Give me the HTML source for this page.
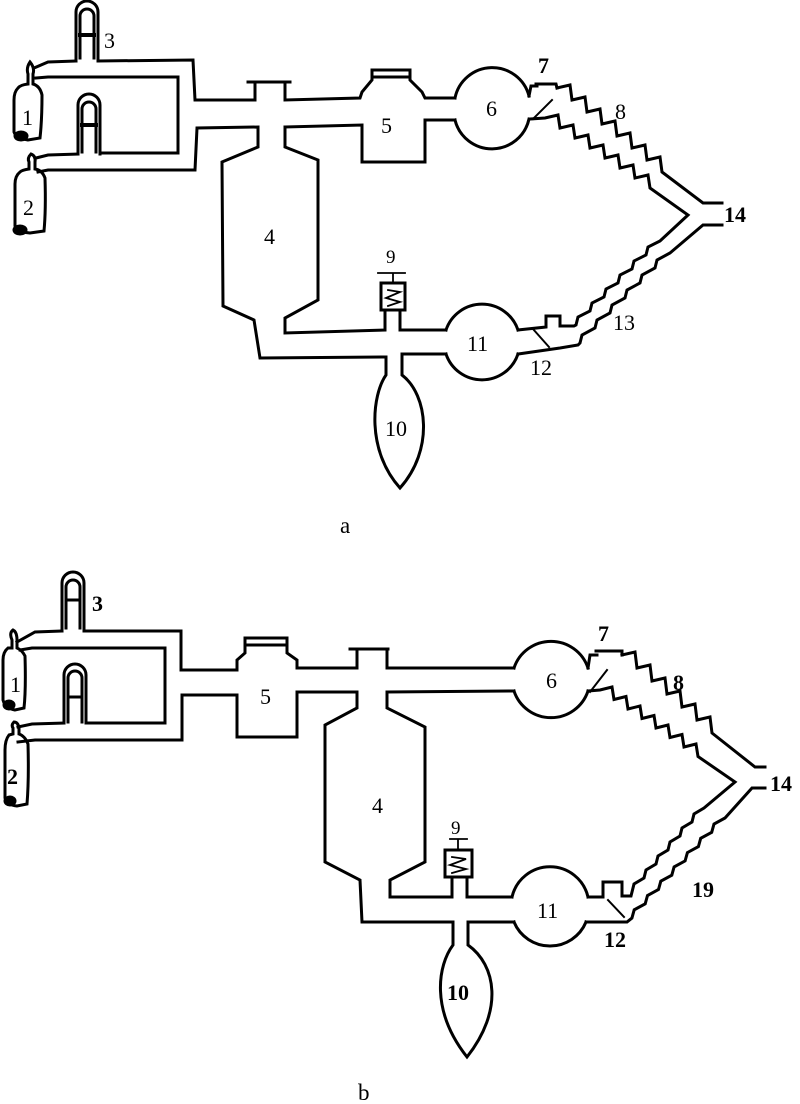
<!DOCTYPE html>
<html><head><meta charset="utf-8"><style>
html,body{margin:0;padding:0;background:#fff;}
svg{display:block;}
text{font-family:"Liberation Serif",serif;fill:#000;}
</style></head><body>
<svg width="800" height="1104" viewBox="0 0 800 1104" xmlns="http://www.w3.org/2000/svg">
<g fill="none" stroke="#000" stroke-width="3" stroke-linejoin="miter" stroke-linecap="square">
<!-- ===== Diagram a ===== -->
<path d="M18,88 Q14,92 14,100 L14,132 Q16,138 28,140 L40,138 Q42,120 42,95 Q40,86 33,84 L33,74 Q35,68 30,62 Q26,68 28,74 L28,84 Q20,85 18,88 Z"/>
<ellipse cx="21" cy="136" rx="6" ry="4" fill="#000"/>
<path d="M20,172 Q15,176 15,184 L15,226 Q17,232 30,233 L44,231 Q46,210 45,178 Q42,170 35,169 L35,162 Q36,156 31,154 Q27,158 29,162 L29,169 Q22,170 20,172 Z"/>
<ellipse cx="20" cy="230" rx="6" ry="4" fill="#000"/>
<path d="M76,61 L76,12 A11,11 0 0 1 98,12 L98,61"/>
<path d="M80,58 L80,16 A7,7 0 0 1 94,16 L94,58"/>
<line x1="80" y1="35" x2="94" y2="35" stroke-width="4"/>
<path d="M78,154 L78,105 A11,11 0 0 1 100,105 L100,154"/>
<path d="M82,152 L82,109 A7,7 0 0 1 96,109 L96,152"/>
<line x1="82" y1="125" x2="96" y2="125" stroke-width="4"/>
<path d="M34,68 L48,62 L76,61 M98,61 L193,60 L195,100 L255,100 L255,82 M248,82 L290,82 M285,82 L285,100 L360,98 L362,92 L372,80 L372,70 L410,70 L410,80 L422,92 L425,98 L455,98"/>
<line x1="372" y1="77" x2="410" y2="77"/>
<path d="M36,78 L48,77 L178,77 L178,153 L100,153"/>
<path d="M36,158 L48,155 L78,154"/>
<path d="M38,172 L48,170 L195,170 L197,128 L258,127 L258,147 L222,162 L223,306 L254,320 L260,358 L386,357"/>
<path d="M285,127 L285,147 L318,160 L318,300 L285,318 L285,333 L385,330 L385,310"/>
<path d="M285,127 L362,125 L362,162 L425,162 L425,120 L455,120"/>
<rect x="381" y="283" width="24" height="27"/>
<path d="M393,273 L393,283 M378,273 L405,273 M388,290 L400,292 L386,298 L400,302 L388,306" stroke-width="1.8"/>
<path d="M400,310 L400,330 L446,330"/>
<path d="M402,354 L446,354"/>
<path d="M386,357 L386,375 C372,395 366,450 400,488 C434,450 428,395 402,375 L402,357"/>
<path d="M455,98 A38,38 0 0 1 529,96"/>
<path d="M455,120 A38,38 0 0 0 529,119"/>
<path d="M529,96 L531,86 L537,86 M536,84 L556,84 L557,88"/>
<path d="M533,119 L552,100" stroke-width="2"/>
<path d="M557,88 l13,-3 l2,15 l13,-3 l2,15 l13,-3 l2,15 l13,-3 l2,15 l13,-3 l2,15 l13,-3 l2,15 l13,-3 l2,15 L703,203 L722,203"/>
<path d="M530,119 L545,118 l13,-3 l2,13 l13,-3 l2,13 l13,-3 l2,13 l13,-3 l2,13 l13,-3 l2,13 l13,-3 l2,13 l13,-3 l2,13 L688,215 L660,241 l-12,6 l-2,8 l-12,6 l-2,8 l-12,6 l-2,8 l-12,6 l-2,8 l-12,6 l-2,8 l-12,6 l-2,8 L574,326 L560,326 L560,316 L546,316 L546,327 L518,330"/>
<path d="M722,225 L703,225 L670,253 l-13,7 l-2,8 l-13,7 l-2,8 l-13,7 l-2,8 l-13,7 l-2,8 l-13,7 l-2,8 l-13,7 l-2,8 L578,345 L560,348 L518,354"/>
<path d="M533,329 L549,347" stroke-width="2"/>
<path d="M446,330 A38,38 0 0 1 518,330"/>
<path d="M446,354 A38,38 0 0 0 518,354"/>

<!-- ===== Diagram b ===== -->
<path d="M8,648 Q3,652 3,660 L3,700 Q5,708 15,710 L24,708 Q26,690 25,656 Q22,650 17,648 L17,640 Q17,632 13,630 Q9,633 12,640 L12,648 Z"/>
<ellipse cx="9" cy="705" rx="5" ry="4" fill="#000"/>
<path d="M9,735 Q5,740 5,750 L5,798 Q7,805 17,806 L27,804 Q29,780 28,744 Q25,736 19,734 L19,728 Q18,722 14,722 Q11,725 13,728 L13,734 Z"/>
<ellipse cx="10" cy="801" rx="5" ry="4" fill="#000"/>
<path d="M62,631 L62,583 A11,11 0 0 1 84,583 L84,631"/>
<path d="M66,628 L66,587 A7,7 0 0 1 80,587 L80,628"/>
<line x1="66" y1="600" x2="80" y2="600" stroke-width="3"/>
<path d="M64,723 L64,675 A11,11 0 0 1 86,675 L86,723"/>
<path d="M68,722 L68,678 A7,7 0 0 1 82,678 L82,722"/>
<line x1="68" y1="697" x2="82" y2="697" stroke-width="3"/>
<path d="M17,642 L35,632 L62,631 M84,631 L181,631 L181,670 L237,670 L237,660 L245,653 L245,638 L287,638 L287,653 L297,660 L297,668 L357,668 L357,649 M350,649 L388,649 M387,649 L387,668 L514,668"/>
<line x1="245" y1="645" x2="287" y2="645"/>
<path d="M20,650 L32,648 L165,648 L165,723 L86,723"/>
<path d="M18,727 L32,724 L64,723"/>
<path d="M18,742 L35,740 L182,740 L182,695 L237,695 L237,737 L297,737 L297,692 L357,692 L357,708 L325,725 L325,862 L360,880 L362,922 L453,922 L453,945 C438,965 430,1010 467,1057 C504,1010 496,965 468,945 L468,922 L514,922"/>
<path d="M387,692 L514,691"/>
<path d="M387,692 L387,708 L425,727 L425,862 L390,880 L390,897 L452,897 L452,877"/>
<rect x="445" y="850" width="27" height="27"/>
<path d="M458,839 L458,850 M450,839 L467,839 M452,857 L466,859 L450,865 L466,869 L452,873" stroke-width="1.8"/>
<path d="M467,877 L467,897 L512,897"/>
<path d="M514,668 A39,39 0 0 1 588,668"/>
<path d="M514,691 A39,39 0 0 0 588,691"/>
<path d="M588,668 L590,655 L597,655 M596,651 L622,651 L622,655"/>
<path d="M590,692 L607,670" stroke-width="2"/>
<path d="M622,655 l13,-3 l2,16 l13,-3 l2,16 l13,-3 l2,16 l13,-3 l2,16 l13,-3 l2,16 l13,-3 l2,16 L755,767 L765,767"/>
<path d="M588,691 L600,690 l12,-3 l2,12.5 l12,-3 l2,12.5 l12,-3 l2,12.5 l12,-3 l2,12.5 l12,-3 l2,12.5 l12,-3 l2,12.5 l12,-3 l2,12.5 L735,782 L704,808 l-10,6 l-2,8 l-10,6 l-2,8 l-10,6 l-2,8 l-10,6 l-2,8 l-10,6 l-2,8 l-10,6 l-2,8 L631,896 L622,896 L622,882 L603,882 L603,897 L588,897"/>
<path d="M765,788 L752,788 L725,818 l-11,6 l-2.3,8.3 l-11,6 l-2.3,8.3 l-11,6 l-2.3,8.3 l-11,6 l-2.3,8.3 l-11,6 l-2.3,8.3 l-11,6 l-2.3,8.3 l-11,6 l-2.3,8.3 L627,922 L586,922"/>
<path d="M608,900 L624,917" stroke-width="2"/>
<path d="M512,897 A39,39 0 0 1 588,897"/>
<path d="M514,922 A39,39 0 0 0 586,922"/>
</g>

<g font-size="22">
<text x="22" y="125">1</text>
<text x="23" y="215">2</text>
<text x="104" y="48">3</text>
<text x="264" y="244">4</text>
<text x="381" y="133">5</text>
<text x="486" y="116">6</text>
<text x="538" y="73" font-weight="bold">7</text>
<text x="615" y="119">8</text>
<text x="386" y="263" font-size="19">9</text>
<text x="385" y="436">10</text>
<text x="467" y="351">11</text>
<text x="530" y="375">12</text>
<text x="613" y="330">13</text>
<text x="724" y="222" font-weight="bold">14</text>
<text x="340" y="533" font-size="23">a</text>
<text x="10" y="692">1</text>
<text x="7" y="784" font-weight="bold">2</text>
<text x="92" y="611" font-weight="bold">3</text>
<text x="372" y="813">4</text>
<text x="260" y="704">5</text>
<text x="546" y="688">6</text>
<text x="598" y="641" font-weight="bold">7</text>
<text x="673" y="690" font-weight="bold">8</text>
<text x="451" y="834" font-size="19">9</text>
<text x="447" y="1000" font-weight="bold">10</text>
<text x="537" y="918">11</text>
<text x="604" y="947" font-weight="bold">12</text>
<text x="692" y="897" font-weight="bold">19</text>
<text x="770" y="791" font-weight="bold">14</text>
<text x="358" y="1100" font-size="23">b</text>
</g>
</svg>
</body></html>
